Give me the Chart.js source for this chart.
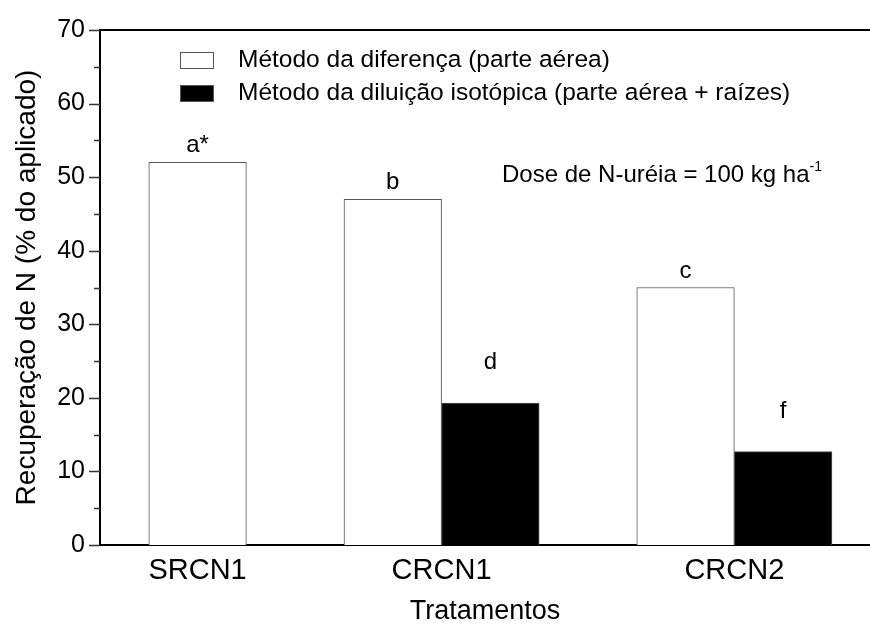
<!DOCTYPE html>
<html>
<head>
<meta charset="utf-8">
<script src="https://cdn.jsdelivr.net/npm/chart.js@4.4.1/dist/chart.umd.min.js"></script>
<style>
    html, body { margin: 0; padding: 0; background: #fff; }
    #wrap { width: 870px; height: 628px; }
</style>
</head>
<body>
<div id="wrap"><canvas id="chart" width="870" height="628"></canvas></div>
<script>
    // Dados
    var tratamentos = ["SRCN1", "CRCN1", "CRCN2"];
    var metodoDiferenca = [52, 47, 35];
    var metodoDiluicao = [null, 19.3, 12.7];
    var letrasDiferenca = ["a*", "b", "c"];
    var letrasDiluicao = [null, "d", "f"];
    var yMax = 70;

    // posicao de cada barra no eixo x (unidade = largura de uma barra)
    var slotBranco = [1, 3, 6];
    var slotPreto = [2, 4, 7];
    var slotRotulo = [1, 3.5, 6.5];

    var fonte = "'Liberation Sans', Arial, sans-serif";
    Chart.defaults.font.family = fonte;
    Chart.defaults.color = "#000";

    function pontos(valores, slots, letras) {
        var out = [];
        valores.forEach(function (v, i) {
            if (v === null) return;
            out.push({x: slots[i], y: v, letra: letras[i]});
        });
        return out;
    }

    // eixos extras, letras, legenda e texto da dose
    var decor = {
        id: "decor",
        afterDraw: function (chart) {
            var ctx = chart.ctx;
            var area = chart.chartArea;
            var ys = chart.scales.y;
            ctx.save();

            // linha de cima
            ctx.strokeStyle = "#000";
            ctx.lineWidth = 2;
            ctx.beginPath();
            ctx.moveTo(area.left - 1, area.top);
            ctx.lineTo(chart.width, area.top);
            ctx.stroke();

            // ticks do eixo y
            ctx.strokeStyle = "#333";
            ctx.lineWidth = 1.5;
            ys.ticks.forEach(function (t) {
                var py = Math.round(ys.getPixelForValue(t.value)) + 0.5;
                var len = t.value % 10 === 0 ? 11 : 6;
                ctx.beginPath();
                ctx.moveTo(area.left - len, py);
                ctx.lineTo(area.left, py);
                ctx.stroke();
            });

            // letras acima das barras
            ctx.fillStyle = "#000";
            ctx.font = "24px " + fonte;
            ctx.textAlign = "center";
            ctx.textBaseline = "alphabetic";
            [10, 34].forEach(function (gap, d) {
                var meta = chart.getDatasetMeta(d);
                meta.data.forEach(function (bar, j) {
                    var letra = chart.data.datasets[d].data[j].letra;
                    if (letra) ctx.fillText(letra, bar.x, bar.y - gap);
                });
            });

            // legenda
            ctx.textAlign = "left";
            ctx.textBaseline = "middle";
            ctx.font = "24.5px " + fonte;
            chart.data.datasets.forEach(function (ds, i) {
                var bx = area.left + 80, by = area.top + 22 + i * 33;
                ctx.fillStyle = ds.backgroundColor;
                ctx.fillRect(bx, by, 33, 16);
                ctx.strokeStyle = "#555";
                ctx.lineWidth = 1;
                ctx.strokeRect(bx + 0.5, by + 0.5, 33, 16);
                ctx.fillStyle = "#000";
                ctx.fillText(ds.label, bx + 58, by + 8);
            });

            // dose
            ctx.font = "24px " + fonte;
            ctx.textBaseline = "alphabetic";
            var tx = area.left + 402, ty = area.top + 152;
            var txt = "Dose de N-uréia = 100 kg ha";
            ctx.fillText(txt, tx, ty);
            var w = ctx.measureText(txt).width;
            ctx.font = "14px " + fonte;
            ctx.fillText("-1", tx + w, ty - 11);
            ctx.restore();
        }
    };

    var ctx = document.getElementById("chart").getContext("2d");
    var grafico = new Chart(ctx, {
        type: "bar",
        data: {
            datasets: [{
                label: "Método da diferença (parte aérea)",
                data: pontos(metodoDiferenca, slotBranco, letrasDiferenca),
                backgroundColor: "#fff",
                borderColor: "#555",
                borderWidth: 1
            },
            {
                label: "Método da diluição isotópica (parte aérea + raízes)",
                data: pontos(metodoDiluicao, slotPreto, letrasDiluicao),
                backgroundColor: "#000",
                borderColor: "#555",
                borderWidth: 1
            }]
        },
        options: {
            responsive: false,
            animation: false,
            devicePixelRatio: 1,
            grouped: false,
            barPercentage: 1,
            categoryPercentage: 1,
            layout: { padding: { top: 23, right: 0, left: 0, bottom: 0 } },
            plugins: {
                legend: { display: false },
                tooltip: { enabled: false }
            },
            scales: {
                x: {
                    type: "linear",
                    min: 0,
                    max: 7.89,
                    offset: false,
                    afterFit: function (s) { s.height = 83; },
                    afterBuildTicks: function (s) {
                        s.ticks = slotRotulo.map(function (v) { return {value: v}; });
                    },
                    ticks: {
                        autoSkip: false,
                        maxRotation: 0,
                        padding: 9,
                        font: { size: 29 },
                        callback: function (v) {
                            return tratamentos[slotRotulo.indexOf(v)];
                        }
                    },
                    grid: { display: false, drawTicks: false },
                    border: { display: true, width: 2, color: "#000" },
                    title: {
                        display: true,
                        text: "Tratamentos",
                        font: { size: 27 },
                        padding: { top: 0, bottom: 0 }
                    }
                },
                y: {
                    min: 0,
                    max: yMax,
                    afterFit: function (s) { s.width = 100; },
                    ticks: {
                        stepSize: 5,
                        autoSkip: false,
                        padding: 15,
                        font: { size: 25 },
                        callback: function (v) { return v % 10 === 0 ? v : ""; }
                    },
                    grid: { display: false, drawTicks: false },
                    border: { display: true, width: 2, color: "#000" },
                    title: {
                        display: true,
                        text: "Recuperação de N (% do aplicado)",
                        font: { size: 28 },
                        padding: { top: 10, bottom: 0 }
                    }
                }
            }
        },
        plugins: [decor]
    });
</script>
</body>
</html>
